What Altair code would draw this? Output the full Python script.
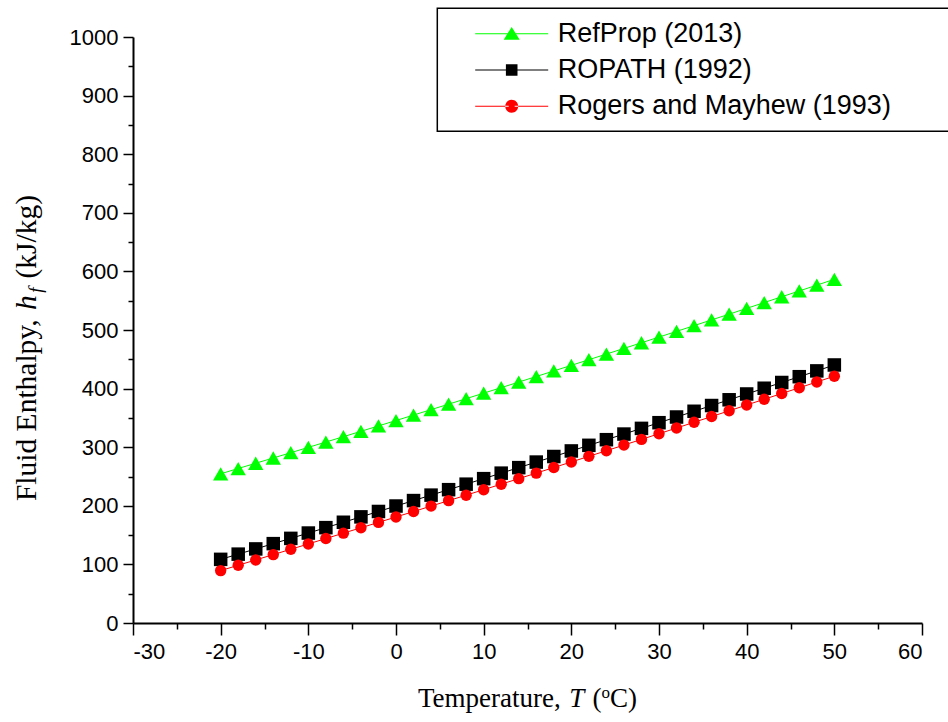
import altair as alt
import pandas as pd

# Liquid enthalpy of ammonia from three property sources
temps = [-20, -18, -16, -14, -12, -10, -8, -6, -4, -2, 0, 2, 4, 6, 8, 10, 12, 14,
         16, 18, 20, 22, 24, 26, 28, 30, 32, 34, 36, 38, 40, 42, 44, 46, 48, 50]

refprop = [254.6, 263.6, 272.6, 281.6, 290.6, 299.7, 308.8, 317.9, 327.1, 336.3,
           345.5, 354.8, 364.1, 373.4, 382.8, 392.2, 401.6, 411.1, 420.6, 430.1,
           439.7, 449.3, 458.9, 468.5, 478.2, 487.9, 497.6, 507.4, 517.2, 527.0,
           536.9, 546.8, 556.7, 566.6, 576.5, 586.5]

ropath = [108.6, 117.5, 126.4, 135.4, 144.4, 153.5, 162.7, 171.9, 181.1, 190.3,
          199.6, 208.9, 218.2, 227.5, 236.9, 246.3, 255.7, 265.1, 274.6, 284.1,
          293.6, 303.2, 312.8, 322.4, 332.1, 341.8, 351.5, 361.3, 371.1, 380.9,
          390.8, 400.6, 410.4, 420.3, 430.2, 440.3]

rogers = [89.4, 98.5, 107.6, 116.7, 125.8, 134.9, 144.1, 153.3, 162.5, 171.7,
          180.9, 190.2, 199.5, 208.8, 218.1, 227.5, 236.9, 246.3, 255.8, 265.3,
          274.8, 284.4, 294.0, 303.6, 313.3, 323.0, 332.7, 342.5, 352.3, 362.1,
          372.0, 381.8, 391.6, 401.4, 411.3, 421.2]

series_names = ["RefProp (2013)", "ROPATH (1992)", "Rogers and Mayhew (1993)"]
series_colors = ["#00ff00", "#000000", "#ff0000"]
series_shapes = ["triangle-up", "square", "circle"]
series_sizes = [236, 130, 161]

x_major = [-30, -20, -10, 0, 10, 20, 30, 40, 50, 60]
x_minor = [-25, -15, -5, 5, 15, 25, 35, 45, 55]
y_major = [0, 100, 200, 300, 400, 500, 600, 700, 800, 900, 1000]
y_minor = [50, 150, 250, 350, 450, 550, 650, 750, 850, 950]

rows = []
for k, (name, vals) in enumerate(zip(series_names, [refprop, ropath, rogers])):
    for t, h in zip(temps, vals):
        rows.append({"T": t, "h": h, "series": name, "idx": k})
df = pd.DataFrame(rows)

W, H = 789, 586
PAD_L, PAD_T = 133, 37

# Legend glyphs: a thin line segment with the marker in its middle
# (custom paths, 1 unit = 10 px at symbol size 400)
line_l = "M-3.65,-0.05H-0.3V0.05H-3.65Z"
line_r = "M0.3,-0.05H3.65V0.05H0.3Z"
legend_paths = [
    line_l + line_r + "M0,-0.68L0.8,0.6L-0.8,0.6Z",
    line_l + line_r + "M-0.58,-0.58H0.58V0.58H-0.58Z",
    line_l + line_r + "M-0.65,0A0.65,0.65 0 1,0 0.65,0A0.65,0.65 0 1,0 -0.65,0Z",
]

xscale = alt.Scale(domain=[-30, 60], nice=False, zero=False)
yscale = alt.Scale(domain=[0, 1000], nice=False)
cscale = alt.Scale(domain=series_names, range=series_colors)

axis_common = dict(labelFont="Liberation Sans", labelFontSize=22, labelColor="black",
                   labelExpr="toString(datum.value)",
                   tickColor="black", tickWidth=1.5, domainColor="black",
                   domainWidth=2, grid=False, title=None)

x_major_axis = alt.Axis(values=x_major, tickSize=12, labelPadding=6, orient="bottom",
                        **axis_common)
y_major_axis = alt.Axis(values=y_major, tickSize=10, labelPadding=5, orient="left",
                        **axis_common)
x_minor_axis = alt.Axis(values=x_minor, tickSize=6, labels=False, domain=False,
                        orient="bottom", tickColor="black", tickWidth=1.5, grid=False,
                        title=None)
y_minor_axis = alt.Axis(values=y_minor, tickSize=5, labels=False, domain=False,
                        orient="left", tickColor="black", tickWidth=1.5, grid=False,
                        title=None)

lines = alt.Chart(df).mark_line(strokeWidth=1).encode(
    x=alt.X("T:Q", scale=xscale, axis=x_major_axis),
    y=alt.Y("h:Q", scale=yscale, axis=y_major_axis),
    color=alt.Color("series:N", scale=cscale, legend=None),
)

points = alt.Chart(df).mark_point(filled=True, opacity=1, strokeWidth=0).encode(
    x=alt.X("T:Q", scale=xscale, axis=x_minor_axis),
    y=alt.Y("h:Q", scale=yscale, axis=y_minor_axis),
    color=alt.Color("series:N", scale=cscale, legend=None),
    shape=alt.Shape("series:N", scale=alt.Scale(domain=series_names, range=series_shapes),
                    legend=None),
    size=alt.Size("series:N", scale=alt.Scale(domain=series_names, range=series_sizes),
                  legend=None),
    order=alt.Order("idx:Q"),
)

# trailing blanks (kept from trimming by a zero-width space) widen the legend frame
# so that its right side runs just past the edge of the canvas
LABEL_TAIL = "\u00a0" * 7 + "\u200b"
legend_props = dict(
    title=None, orient="none", legendX=304.3, legendY=-28.7,
    strokeColor="black", padding=11.9, fillColor="white",
    labelFont="Liberation Sans", labelFontSize=27, labelColor="black", labelLimit=900,
    labelExpr="datum.label + '" + LABEL_TAIL + "'",
    symbolSize=400, symbolStrokeWidth=0, symbolOffset=49, labelOffset=32.5,
    rowPadding=8.3,
)

legend_layer = alt.Chart(df).transform_filter("false").mark_point(
    filled=True, size=400, opacity=1
).encode(
    x=alt.X("T:Q", scale=xscale, axis=None),
    y=alt.Y("h:Q", scale=yscale, axis=None),
    color=alt.Color("series:N", scale=cscale, legend=alt.Legend(**legend_props)),
    shape=alt.Shape("series:N", scale=alt.Scale(domain=series_names, range=legend_paths),
                    legend=alt.Legend(**legend_props)),
)

# Axis titles with italic symbols, sub- and superscripts, set piece by piece
TNR = {" ": 250, ",": 250, "(": 333, ")": 333, "/": 278, "T": 611, "e": 444,
       "m": 778, "p": 500, "r": 333, "a": 444, "t": 278, "u": 500, "C": 667, "o": 500,
       "F": 556, "l": 278, "i": 278, "d": 500, "E": 611, "n": 500, "h": 500, "y": 500,
       "k": 500, "J": 389, "g": 500, "f": 278}
TNR_I = {"T": 556, "h": 500, "f": 278}
SPACE = 0.25  # word space, in em


def text_width(s, size, italic=False):
    table = TNR_I if italic else TNR
    return sum(table.get(c, 500) for c in s) * size / 1000.0


# (text, italic, font size, baseline shift, leading gap in em of the base size)
x_title_parts = [("Temperature,", False, 27, 0, 0), ("T", True, 27, 0, SPACE),
                 ("(", False, 27, 0, SPACE), ("o", False, 17, -9, 0),
                 ("C)", False, 27, 0, 0)]
y_title_parts = [("Fluid Enthalpy,", False, 29.5, 0, 0),
                 ("h", True, 29.5, 0, SPACE), ("f", True, 19, 6, 0.04),
                 ("(kJ/kg)", False, 29.5, 0, SPACE)]


def layout(parts, base_size):
    pos, cur = [], 0.0
    for t, it, s, shift, gap in parts:
        cur += gap * base_size
        pos.append(cur)
        cur += text_width(t, s, it) + (1.5 if it else 0)
    return pos, cur


title_layers = []

x_pos, x_total = layout(x_title_parts, 27)
x_start = W / 2 - x_total / 2
x_base = 670
for (t, it, s, shift, _), p in zip(x_title_parts, x_pos):
    title_layers.append(
        alt.Chart(pd.DataFrame({"txt": [t]})).mark_text(
            font="Liberation Serif", fontSize=s, fontStyle="italic" if it else "normal",
            align="left", baseline="alphabetic", color="black",
        ).encode(text="txt:N", x=alt.value(x_start + p), y=alt.value(x_base + shift))
    )

y_pos, y_total = layout(y_title_parts, 29.5)
y_start = 311 + y_total / 2
y_base = -97
for (t, it, s, shift, _), p in zip(y_title_parts, y_pos):
    title_layers.append(
        alt.Chart(pd.DataFrame({"txt": [t]})).mark_text(
            font="Liberation Serif", fontSize=s, fontStyle="italic" if it else "normal",
            align="left", baseline="alphabetic", angle=270, color="black",
        ).encode(text="txt:N", x=alt.value(y_base + shift), y=alt.value(y_start - p))
    )

chart = alt.layer(lines, points, legend_layer, *title_layers).resolve_scale(
    color="independent", shape="independent", size="independent"
).resolve_axis(
    x="independent", y="independent"
).properties(
    width=W, height=H, autosize="none",
    padding={"left": PAD_L, "top": PAD_T, "right": 948 - PAD_L - W, "bottom": 722 - PAD_T - H},
    background="white",
).configure_view(stroke=None).configure_legend(strokeWidth=1.5)

chart.save("out.html", embed_options={"renderer": "svg", "actions": False})
